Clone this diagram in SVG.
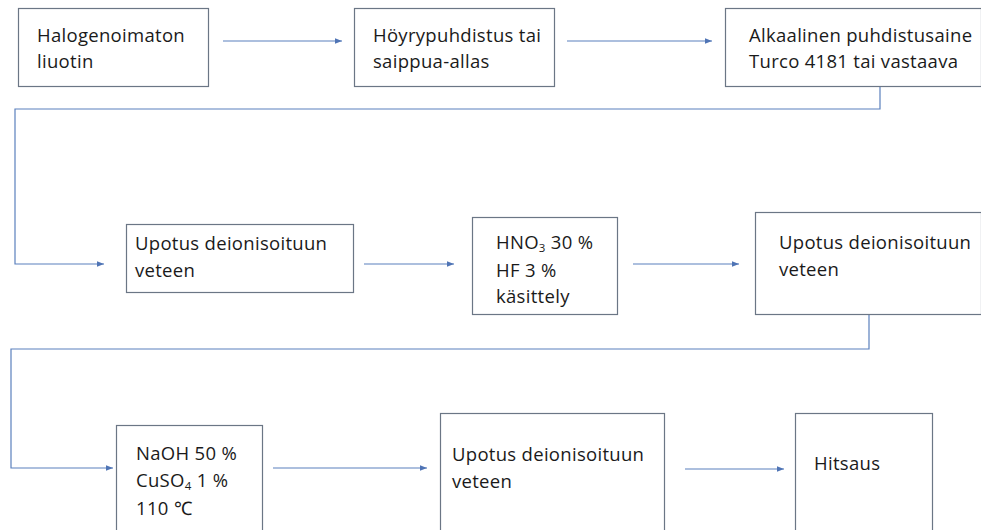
<svg xmlns="http://www.w3.org/2000/svg" width="981" height="530" viewBox="0 0 981 530">
<defs>
<style>
.box{fill:#fff;stroke:#6b7685;stroke-width:1.2}
.t{font-family:"Open Sans","Liberation Sans",sans-serif;font-size:18.5px;letter-spacing:0.3px;fill:#1a1a1a}
.c{fill:none;stroke:#5b80bd;stroke-width:1.2}
.sub{font-size:11.5px}
</style>
<marker id="ah" viewBox="0 0 10 10" refX="10" refY="5" markerWidth="7" markerHeight="7" markerUnits="userSpaceOnUse" orient="auto">
<path d="M0,1 L10,5 L0,9 z" fill="#4f74b5"/>
</marker>
</defs>
<rect width="981" height="530" fill="#fff"/>
<g id="connectors">
<line class="c" x1="223" y1="41" x2="342" y2="41" marker-end="url(#ah)"/>
<line class="c" x1="567" y1="41" x2="712" y2="41" marker-end="url(#ah)"/>
<polyline class="c" points="880,86 880,109 15,109 15,264 104,264" marker-end="url(#ah)"/>
<line class="c" x1="364" y1="264" x2="454" y2="264" marker-end="url(#ah)"/>
<line class="c" x1="633" y1="264" x2="739" y2="264" marker-end="url(#ah)"/>
<polyline class="c" points="869,314 869,349 11,349 11,468 113,468" marker-end="url(#ah)"/>
<line class="c" x1="273" y1="468" x2="427" y2="468" marker-end="url(#ah)"/>
<line class="c" x1="685" y1="469" x2="784" y2="469" marker-end="url(#ah)"/>
</g>
<g id="n1"><rect class="box" x="18.5" y="8.5" width="190" height="78"/>
<text class="t" x="37" y="42">Halogenoimaton</text><text class="t" x="37" y="68">liuotin</text></g>
<g id="n2"><rect class="box" x="354.5" y="8.5" width="200" height="78"/>
<text class="t" x="373" y="42">Höyrypuhdistus tai</text><text class="t" x="373" y="68">saippua-allas</text></g>
<g id="n3"><rect class="box" x="725.5" y="8.5" width="256" height="78"/>
<text class="t" x="749" y="42">Alkaalinen puhdistusaine</text><text class="t" x="749" y="68">Turco 4181 tai vastaava</text></g>
<g id="n4"><rect class="box" x="126.5" y="224.5" width="227" height="68"/>
<text class="t" x="135" y="250">Upotus deionisoituun</text><text class="t" x="135" y="277">veteen</text></g>
<g id="n5"><rect class="box" x="472.5" y="217.5" width="145" height="97"/>
<text class="t" x="496" y="249">HNO<tspan class="sub" dy="3">3</tspan><tspan dy="-3"> 30 %</tspan></text>
<text class="t" x="496" y="277">HF 3 %</text><text class="t" x="496" y="303">käsittely</text></g>
<g id="n6"><rect class="box" x="755.5" y="212.5" width="226" height="102"/>
<text class="t" x="779" y="249">Upotus deionisoituun</text><text class="t" x="779" y="276">veteen</text></g>
<g id="n7"><rect class="box" x="116.5" y="425.5" width="146" height="120"/>
<text class="t" x="136" y="460">NaOH 50 %</text>
<text class="t" x="136" y="487">CuSO<tspan class="sub" dy="3">4</tspan><tspan dy="-3"> 1 %</tspan></text>
<text class="t" x="136" y="515">110 <tspan font-family="Liberation Serif,serif">℃</tspan></text></g>
<g id="n8"><rect class="box" x="440.5" y="413.5" width="224" height="130"/>
<text class="t" x="452" y="461">Upotus deionisoituun</text><text class="t" x="452" y="488">veteen</text></g>
<g id="n9"><rect class="box" x="795.5" y="413.5" width="137" height="130"/>
<text class="t" x="814" y="470">Hitsaus</text></g>
</svg>
